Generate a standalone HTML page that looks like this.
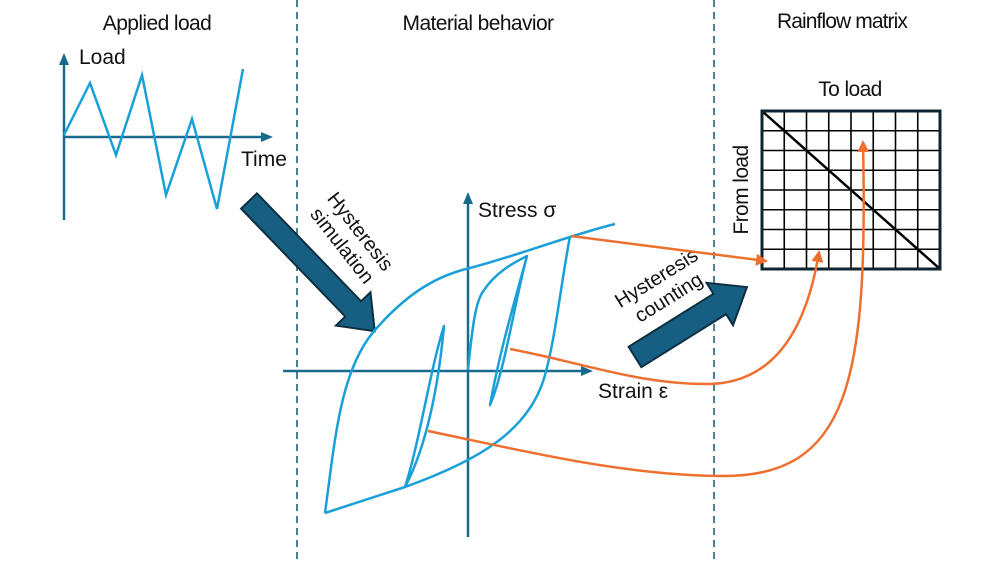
<!DOCTYPE html>
<html><head><meta charset="utf-8"><style>
html,body{margin:0;padding:0;background:#fff}
svg{display:block}
text{font-family:"Liberation Sans",sans-serif;fill:#111}
</style></head><body>
<svg width="1000" height="563" viewBox="0 0 1000 563" xmlns="http://www.w3.org/2000/svg">
<defs>
<marker id="ab" markerWidth="12" markerHeight="10" refX="9" refY="5" orient="auto" markerUnits="userSpaceOnUse"><path d="M0,0 L12,5 L0,10 z" fill="#1a6a8e"/></marker>
<marker id="ao" markerWidth="12" markerHeight="12" refX="10" refY="6" orient="auto" markerUnits="userSpaceOnUse"><path d="M0,0 L12,6 L0,12 z" fill="#ed7030"/></marker>
</defs>
<line x1="297" y1="0" x2="297" y2="563" stroke="#1f5f80" stroke-width="1.6" stroke-dasharray="7,5"/>
<line x1="714" y1="0" x2="714" y2="563" stroke="#1f5f80" stroke-width="1.6" stroke-dasharray="7,5"/>
<text x="157" y="30" font-size="21" text-anchor="middle" letter-spacing="-0.6">Applied load</text>
<text x="478" y="30" font-size="21" text-anchor="middle" letter-spacing="-0.6">Material behavior</text>
<text x="842" y="28" font-size="21" text-anchor="middle" letter-spacing="-0.9">Rainflow matrix</text>
<line x1="64" y1="220" x2="64" y2="56" stroke="#1a6a8e" stroke-width="2.5" marker-end="url(#ab)"/>
<line x1="64" y1="137" x2="270" y2="137" stroke="#1a6a8e" stroke-width="2.5" marker-end="url(#ab)"/>
<text x="79" y="64" font-size="21">Load</text>
<text x="241" y="166" font-size="21">Time</text>
<polyline points="64,135 90,83 116,155 142,75 166,195 192,119 217,209 243,69" fill="none" stroke="#1aa0d8" stroke-width="2.5" stroke-linejoin="miter"/>
<g transform="translate(249,201) rotate(46)">
<polygon points="0,-11 150,-11 150,-24 181,0 150,24 150,11 0,11" fill="#175f82" stroke="#0e2f40" stroke-width="2"/>
</g>
<text transform="translate(352,238) rotate(52)" font-size="20" text-anchor="middle"><tspan x="0" y="-4">Hysteresis</tspan><tspan x="0" y="19">simulation</tspan></text>
<g transform="translate(635,357) rotate(-32)">
<polygon points="0,-12 100,-12 100,-25 132,0 100,25 100,12 0,12" fill="#175f82" stroke="#0e2f40" stroke-width="2"/>
</g>
<text transform="translate(662,287) rotate(-32)" font-size="20" text-anchor="middle"><tspan x="0" y="-4">Hysteresis</tspan><tspan x="0" y="19">counting</tspan></text>
<line x1="468" y1="537" x2="468" y2="195" stroke="#1a6a8e" stroke-width="2.5" marker-end="url(#ab)"/>
<line x1="283" y1="371" x2="590" y2="371" stroke="#1a6a8e" stroke-width="2.5" marker-end="url(#ab)"/>
<text x="478" y="217" font-size="21">Stress σ</text>
<text x="598" y="398" font-size="21">Strain ε</text>
<g fill="none" stroke="#1aa0d8" stroke-width="2.5" stroke-linejoin="round">
<path d="M325,513 C335,440 340,370 375,330 C410,290 440,275 470,268 C520,255 570,235 615,224"/>
<path d="M570,236 C560,290 555,340 545,375 C530,430 480,460 405,487 L325,513"/>
<path d="M468,370 C472,330 475,305 482,293 C495,272 515,262 527,256 C515,300 505,370 490,405 C500,350 515,300 527,256"/>
<path d="M405,487 C420,440 430,370 444,326 C440,370 430,440 405,487"/>
</g>
<g stroke="#000" stroke-width="1.6">
<line x1="784.25" y1="111" x2="784.25" y2="269"/><line x1="806.5" y1="111" x2="806.5" y2="269"/>
<line x1="828.75" y1="111" x2="828.75" y2="269"/><line x1="851" y1="111" x2="851" y2="269"/>
<line x1="873.25" y1="111" x2="873.25" y2="269"/><line x1="895.5" y1="111" x2="895.5" y2="269"/>
<line x1="917.75" y1="111" x2="917.75" y2="269"/>
<line x1="762" y1="130.75" x2="940" y2="130.75"/><line x1="762" y1="150.5" x2="940" y2="150.5"/>
<line x1="762" y1="170.25" x2="940" y2="170.25"/><line x1="762" y1="190" x2="940" y2="190"/>
<line x1="762" y1="209.75" x2="940" y2="209.75"/><line x1="762" y1="229.5" x2="940" y2="229.5"/>
<line x1="762" y1="249.25" x2="940" y2="249.25"/>
</g>
<line x1="762" y1="111" x2="940" y2="269" stroke="#000" stroke-width="2.5"/>
<rect x="762" y="111" width="178" height="158" fill="none" stroke="#0e2530" stroke-width="3"/>
<text x="850" y="96" font-size="21" text-anchor="middle" letter-spacing="-0.6">To load</text>
<text transform="translate(748,190) rotate(-90)" font-size="21" text-anchor="middle" letter-spacing="-0.6">From load</text>
<g fill="none" stroke="#ed7030" stroke-width="2.5">
<path d="M571,236 L766,261" marker-end="url(#ao)"/>
<path d="M510,349 C580,362 640,385 710,384 C780,382 808,320 819,252" marker-end="url(#ao)"/>
<path d="M428,431 C520,450 620,475 720,476 C850,478 868,380 863,142" marker-end="url(#ao)"/>
</g>
</svg>
</body></html>
